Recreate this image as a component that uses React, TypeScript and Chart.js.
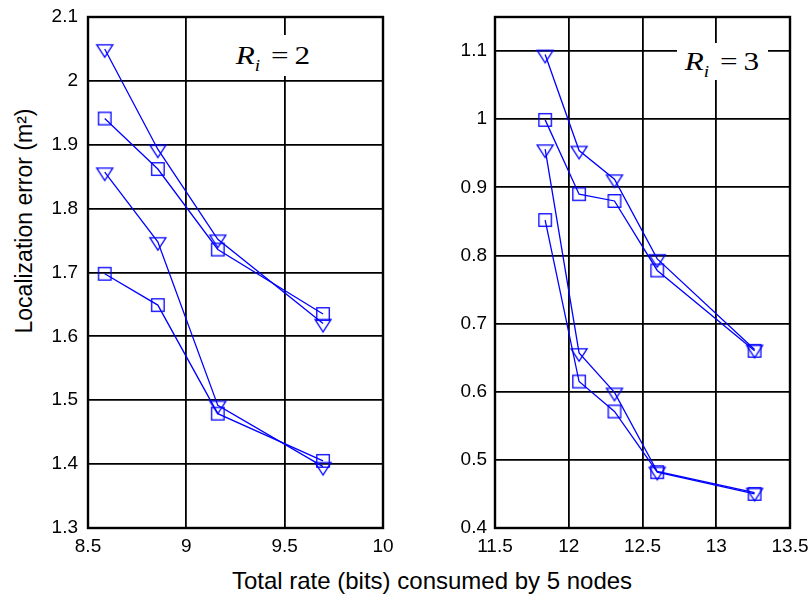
import React, { useEffect, useRef } from "react";
import { Chart, registerables } from "chart.js";

Chart.register(...registerables);

// Left panel (R_i = 2): total rate vs. localization error
const leftRates = [8.585, 8.855, 9.16, 9.695];
const leftTriUpper = [2.05, 1.893, 1.752, 1.62];
const leftSqUpper = [1.941, 1.862, 1.736, 1.635];
const leftTriLower = [1.857, 1.748, 1.492, 1.396];
const leftSqLower = [1.698, 1.649, 1.479, 1.405];

// Right panel (R_i = 3)
const rightRates = [11.84, 12.07, 12.31, 12.6, 13.26];
const rightTriUpper = [1.095, 0.954, 0.912, 0.795, 0.662];
const rightSqUpper = [0.999, 0.89, 0.88, 0.778, 0.66];
const rightTriLower = [0.956, 0.657, 0.599, 0.483, 0.452];
const rightSqLower = [0.852, 0.615, 0.571, 0.482, 0.45];

// Axis ranges and tick steps
const leftXRange = [8.5, 10];
const leftYRange = [1.3, 2.1];
const rightXRange = [11.5, 13.5];
const rightYRange = [0.4, 1.15];
const xStep = 0.5;
const yStep = 0.1;

const BLUE = "#0000ff";
const SANS = '"Liberation Sans", Arial, sans-serif';
const SERIF = '"Liberation Serif", "Times New Roman", serif';

function triangleMarker(): HTMLCanvasElement {
  const w = 16;
  const h = 12.5;
  const size = 24;
  const c = document.createElement("canvas");
  c.width = size;
  c.height = size;
  const g = c.getContext("2d") as CanvasRenderingContext2D;
  const cx = size / 2;
  const cy = size / 2;
  g.strokeStyle = BLUE;
  g.lineWidth = 1.3;
  g.beginPath();
  g.moveTo(cx - w / 2, cy - h / 3);
  g.lineTo(cx + w / 2, cy - h / 3);
  g.lineTo(cx, cy + (2 * h) / 3);
  g.closePath();
  g.stroke();
  return c;
}

function squareMarker(): HTMLCanvasElement {
  const s = 12.5;
  const size = 18;
  const c = document.createElement("canvas");
  c.width = size;
  c.height = size;
  const g = c.getContext("2d") as CanvasRenderingContext2D;
  g.strokeStyle = BLUE;
  g.lineWidth = 1.3;
  g.strokeRect(size / 2 - s / 2, size / 2 - s / 2, s, s);
  return c;
}

const framePlugin = {
  id: "frame",
  beforeDatasetsDraw(chart: any) {
    const { ctx, chartArea: a } = chart;
    ctx.save();
    ctx.strokeStyle = "#000";
    ctx.lineWidth = 2.4;
    ctx.strokeRect(a.left, a.top, a.right - a.left, a.bottom - a.top);
    ctx.restore();
  },
};

const fmt = (v: any) => String(Math.round(Number(v) * 100) / 100);

function series(xs: number[], ys: number[], marker: HTMLCanvasElement) {
  return {
    data: xs.map((x, i) => ({ x, y: ys[i] })),
    borderColor: BLUE,
    backgroundColor: BLUE,
    borderWidth: 1.3,
    pointStyle: marker,
    pointRadius: 7,
    showLine: true,
    tension: 0,
  };
}

function makeConfig(
  datasets: any[],
  xr: number[],
  yr: number[],
  yAxisWidth: number,
  padRight: number,
  yPad: number
): any {
  return {
    type: "line",
    data: { datasets },
    plugins: [framePlugin],
    options: {
      animation: false,
      responsive: false,
      devicePixelRatio: 1,
      layout: { padding: { left: 0, top: 17, right: padRight, bottom: 0 } },
      plugins: { legend: { display: false }, tooltip: { enabled: false } },
      scales: {
        x: {
          type: "linear",
          min: xr[0],
          max: xr[1],
          border: { display: false },
          grid: { color: "#000", lineWidth: 1.8, drawTicks: false },
          ticks: {
            stepSize: xStep,
            includeBounds: false,
            color: "#000",
            font: { family: SANS, size: 19 },
            padding: 7,
            maxRotation: 0,
            callback: fmt,
          },
          afterFit(scale: any) {
            scale.height = 32;
            // labels may spill into the canvas margin; keep the plot box fixed
            scale.paddingLeft = 0;
            scale.paddingRight = 0;
          },
        },
        y: {
          type: "linear",
          min: yr[0],
          max: yr[1],
          border: { display: false },
          grid: { color: "#000", lineWidth: 1.8, drawTicks: false },
          ticks: {
            stepSize: yStep,
            includeBounds: false,
            color: "#000",
            font: { family: SANS, size: 19 },
            padding: yPad,
            callback: fmt,
          },
          afterFit(scale: any) {
            scale.width = yAxisWidth;
            scale.paddingTop = 0;
            scale.paddingBottom = 0;
          },
        },
      },
    },
  };
}

function Label({ n }: { n: number }) {
  return (
    <span
      style={{
        fontFamily: SERIF,
        fontSize: 26,
        display: "inline-block",
        whiteSpace: "nowrap",
        transform: "scaleX(1.2)",
        color: "#000",
      }}
    >
      <i>R</i>
      <i style={{ fontSize: 16, position: "relative", top: 7 }}>i</i>
      <span style={{ marginLeft: 9 }}>=</span>
      <span style={{ marginLeft: 5 }}>{n}</span>
    </span>
  );
}

export default function App() {
  const leftRef = useRef<HTMLCanvasElement>(null);
  const rightRef = useRef<HTMLCanvasElement>(null);

  useEffect(() => {
    const tri = triangleMarker();
    const sq = squareMarker();
    const left = new Chart(
      leftRef.current as HTMLCanvasElement,
      makeConfig(
        [
          series(leftRates, leftTriUpper, tri),
          series(leftRates, leftSqUpper, sq),
          series(leftRates, leftTriLower, tri),
          series(leftRates, leftSqLower, sq),
        ],
        leftXRange,
        leftYRange,
        48,
        17,
        10
      )
    );
    const right = new Chart(
      rightRef.current as HTMLCanvasElement,
      makeConfig(
        [
          series(rightRates, rightTriUpper, tri),
          series(rightRates, rightSqUpper, sq),
          series(rightRates, rightTriLower, tri),
          series(rightRates, rightSqLower, sq),
        ],
        rightXRange,
        rightYRange,
        45,
        20,
        8
      )
    );
    return () => {
      left.destroy();
      right.destroy();
    };
  }, []);

  return (
    <div
      style={{
        position: "absolute",
        left: 0,
        top: 0,
        width: 812,
        height: 594,
        background: "#fff",
        overflow: "hidden",
      }}
    >
      <canvas
        ref={leftRef}
        width={360}
        height={560}
        style={{ position: "absolute", left: 40, top: 0, width: 360, height: 560 }}
      />
      <canvas
        ref={rightRef}
        width={360}
        height={560}
        style={{ position: "absolute", left: 450, top: 0, width: 360, height: 560 }}
      />
      <div
        style={{
          position: "absolute",
          left: 228,
          top: 35,
          width: 91,
          height: 41,
          background: "#fff",
          display: "flex",
          alignItems: "center",
          justifyContent: "center",
        }}
      >
        <Label n={2} />
      </div>
      <div
        style={{
          position: "absolute",
          left: 677,
          top: 43,
          width: 91,
          height: 37,
          background: "#fff",
          display: "flex",
          alignItems: "center",
          justifyContent: "center",
        }}
      >
        <Label n={3} />
      </div>
      <div
        style={{
          position: "absolute",
          left: 24,
          top: 221,
          transform: "translate(-50%, -50%) rotate(-90deg)",
          fontFamily: SANS,
          fontSize: 23,
          whiteSpace: "nowrap",
          color: "#000",
        }}
      >
        Localization error (m²)
      </div>
      <div
        style={{
          position: "absolute",
          left: 432,
          top: 567,
          transform: "translateX(-50%)",
          fontFamily: SANS,
          fontSize: 24,
          whiteSpace: "nowrap",
          color: "#000",
        }}
      >
        Total rate (bits) consumed by 5 nodes
      </div>
    </div>
  );
}
